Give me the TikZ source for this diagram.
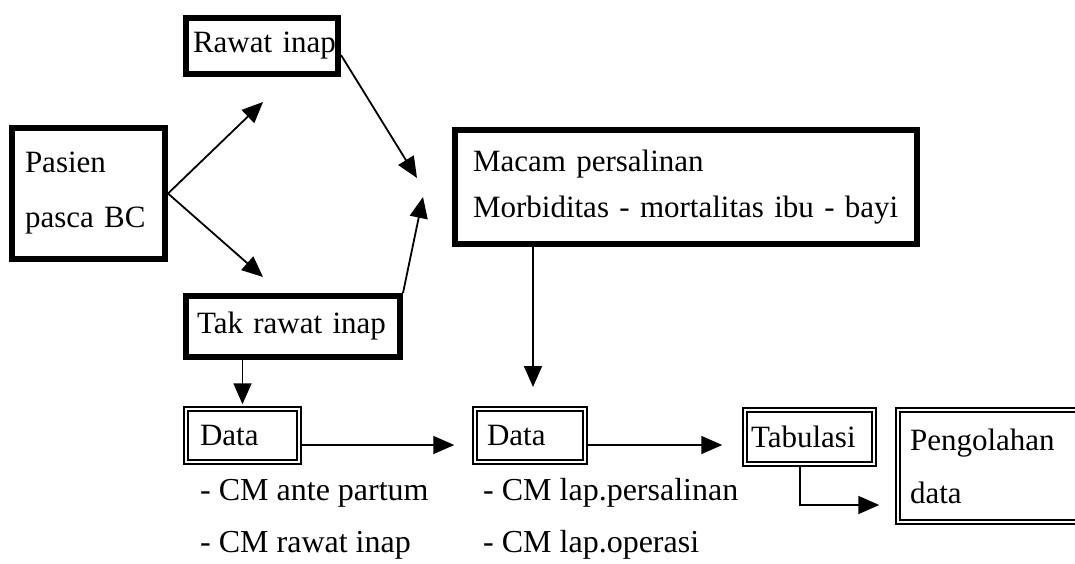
\documentclass[tikz,border=0pt]{standalone}
\usepackage{fontspec}
\setmainfont{Liberation Serif}
\usetikzlibrary{arrows.meta,calc}
\begin{document}
\begin{tikzpicture}[x=1pt,y=-1pt,
  thickbox/.style={draw, rectangle, line width=6pt, inner ysep=0pt, align=left},
  dblbox/.style={draw, rectangle, double, line width=1.5pt, double distance=2.6pt, inner ysep=0pt, align=left},
  conn/.style={line width=1.8pt, -{Triangle[length=21pt,width=18pt]}},
  lbl/.style={inner sep=0pt, anchor=base west, font=\fontsize{32}{38}\selectfont}]
\useasboundingbox (0,0) rectangle (1075,563);
\clip (0,0) rectangle (1075,563);

% boxes
\node[thickbox, minimum width=152pt, minimum height=56pt, inner xsep=7pt, text width=138pt,
      font=\fontsize{31}{38}\selectfont] (rawat) at (262,46) {\mbox{Rawat inap}};
\node[thickbox, minimum width=153pt, minimum height=131pt, inner xsep=13pt, text width=127pt,
      font=\fontsize{31}{55}\selectfont] (pasien) at (88.5,193.5) {\mbox{Pasien}\\\mbox{pasca BC}};
\node[thickbox, minimum width=462pt, minimum height=114pt, inner xsep=18pt, text width=426pt,
      font=\fontsize{31}{46}\selectfont] (macam) at (686,187) {\mbox{Macam persalinan}\\\mbox{Morbiditas - mortalitas ibu - bayi}};
\node[thickbox, minimum width=214pt, minimum height=61pt, inner xsep=11pt, text width=192pt,
      font=\fontsize{31}{38}\selectfont] (tak) at (293,326.5) {\mbox{Tak rawat inap}};
\node[dblbox, minimum width=113pt, minimum height=53pt, inner xsep=14pt, text width=85pt,
      font=\fontsize{31}{38}\selectfont] (data1) at (242.5,435.5) {\mbox{Data}};
\node[dblbox, minimum width=110pt, minimum height=53pt, inner xsep=12pt, text width=86pt,
      font=\fontsize{31}{38}\selectfont] (data2) at (530,435.5) {\mbox{Data}};
\node[dblbox, minimum width=129pt, minimum height=54pt, inner xsep=6pt, text width=117pt,
      font=\fontsize{31}{38}\selectfont] (tabulasi) at (809.5,437) {\mbox{Tabulasi}};
\node[dblbox, minimum width=189pt, minimum height=112pt, inner xsep=12pt, text width=165pt,
      font=\fontsize{31}{53}\selectfont] (pengolahan) at (992.5,466) {\mbox{Pengolahan}\\\mbox{data}};

% labels
\node[lbl] (cm1) at (200,500) {- CM ante partum};
\node[lbl] (cm2) at (200,552) {- CM rawat inap};
\node[lbl] (cm3) at (483,500) {- CM lap.persalinan};
\node[lbl] (cm4) at (483,552) {- CM lap.operasi};

% free ends
\coordinate (up) at (263,102);
\coordinate (down) at (263,277);
\coordinate (join1) at (417,178);
\coordinate (join2) at (423,197);
\coordinate (m1) at (533,387);
\coordinate (a1) at ($(data2.west)+(-20,9.5)$);
\coordinate (a2) at ($(tabulasi.west)+(-22,8)$);
\coordinate (a3) at ($(pengolahan.west)+(-18,39)$);

% connectors
\draw[conn] (pasien.east) -- (up);
\draw[conn] (pasien.east) -- (down);
\draw[conn] ([yshift=-9pt]rawat.east) -- (join1);
\draw[conn] (tak.north east) -- (join2);
\draw[conn] (macam.south -| m1) -- (m1);
\draw[conn] (tak.south -| data1.north) -- ([yshift=4pt]data1.north);
\draw[conn] (data1.east |- a1) -- (a1);
\draw[conn] (data2.east |- a2) -- (a2);
\draw[conn] ([xshift=-9.5pt]tabulasi.south) |- (a3);
\end{tikzpicture}
\end{document}
